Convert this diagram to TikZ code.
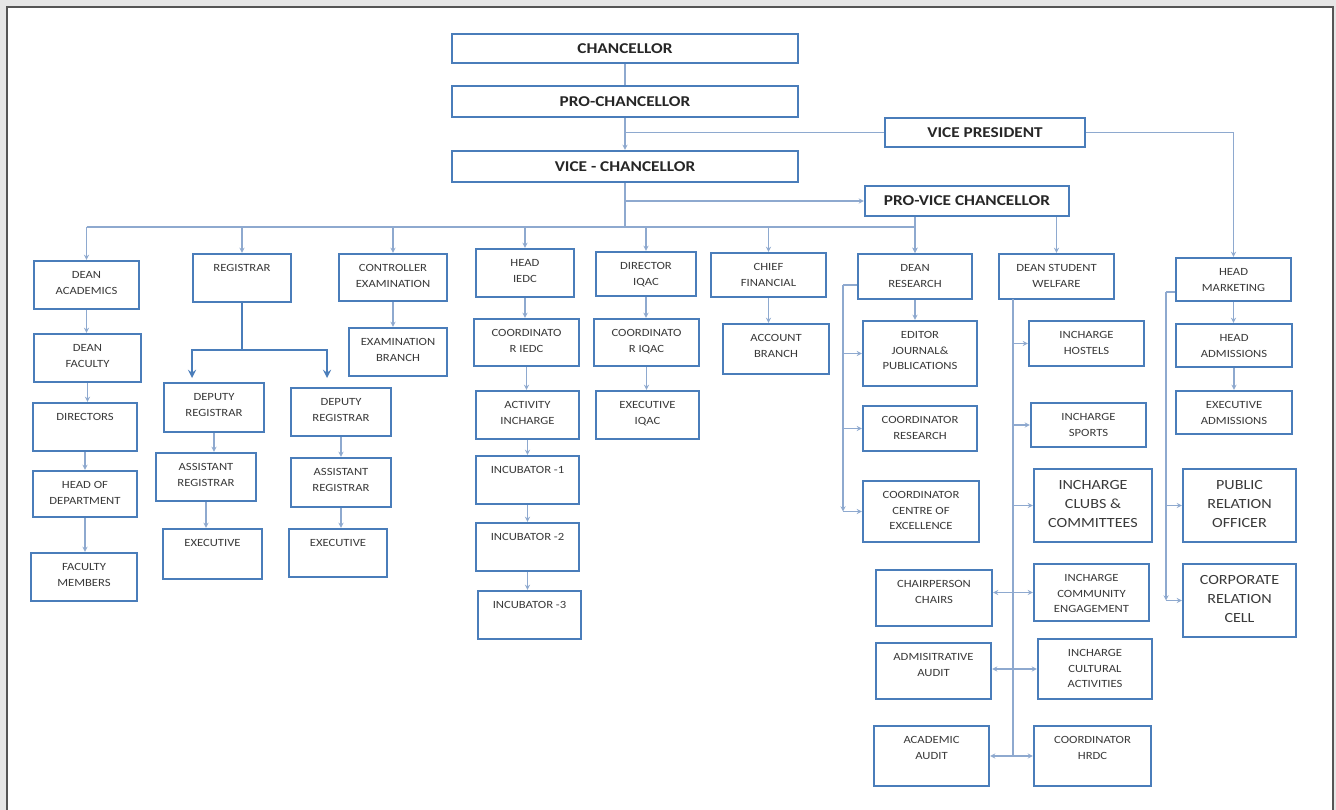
\documentclass[tikz,border=0pt]{standalone}
\usepackage{fontspec}
\setmainfont{Carlito}[FakeStretch=1.15]
\usetikzlibrary{arrows}

\definecolor{boxblue}{HTML}{4A7DBA}
\definecolor{linkblue}{HTML}{8EA9CF}
\definecolor{textgray}{HTML}{3A3A3A}
\definecolor{pagegray}{HTML}{E6E6E6}
\definecolor{framegray}{HTML}{555555}

\begin{document}
\begin{tikzpicture}[x=1pt,y=-1pt,>=stealth]

	\tikzstyle unit box=[draw=boxblue, line width=2.2pt, fill=white, inner sep=0pt];
	\tikzstyle top box=[unit box, font=\fontsize{15}{18}\selectfont\bfseries, text=black!85];
	\tikzstyle unit text=[anchor=north, yshift=-11.5pt, inner sep=0pt, align=center, text=textgray, font=\fontsize{11}{15.5}\selectfont];
	\tikzstyle wide text=[anchor=north, yshift=-12.5pt, inner sep=0pt, align=center, text=textgray, font=\fontsize{14}{19}\selectfont];
	\tikzstyle link lines=[draw=linkblue, line width=1.3pt];
	\tikzstyle split lines=[draw=boxblue, line width=2.6pt];

	% page
	\useasboundingbox (0,0) rectangle (1336,810);
	\fill[pagegray] (0,0) rectangle (1336,810);
	\filldraw[fill=white, draw=framegray, line width=1.5pt] (7,7) rectangle (1333,830);

	% top of the chart
	\node[top box, minimum width=346pt, minimum height=29pt] (chancellor) at (625,48.5) {CHANCELLOR};
	\node[top box, minimum width=346pt, minimum height=31pt] (prochancellor) at (625,101.5) {PRO-CHANCELLOR};
	\node[top box, minimum width=346pt, minimum height=31pt] (vc) at (625,166.5) {VICE - CHANCELLOR};
	\node[top box, minimum width=200pt, minimum height=29pt] (vp) at (985,132.5) {VICE PRESIDENT};
	\node[top box, minimum width=204pt, minimum height=30pt] (pvc) at (967,201) {PRO-VICE CHANCELLOR};

	% units
	\foreach \n/\xl/\yt/\xr/\yb/\txt in {
		deanacad/33/260/140/310/{DEAN\\ACADEMICS},
		deanfac/33/333/142/383/{DEAN\\FACULTY},
		directors/32/402/138/452/{DIRECTORS},
		hod/32/470/138/518/{HEAD OF\\DEPARTMENT},
		facmem/30/552/138/602/{FACULTY\\MEMBERS},
		registrar/192/253/292/303/{REGISTRAR},
		depreg1/163/382/265/433/{DEPUTY\\REGISTRAR},
		depreg2/290/387/392/437/{DEPUTY\\REGISTRAR},
		asstreg1/155/452/257/502/{ASSISTANT\\REGISTRAR},
		asstreg2/290/457/392/508/{ASSISTANT\\REGISTRAR},
		exec1/162/528/263/580/{EXECUTIVE},
		exec2/288/528/388/578/{EXECUTIVE},
		controller/338/253/448/302/{CONTROLLER\\EXAMINATION},
		exambranch/348/327/448/377/{EXAMINATION\\BRANCH},
		headiedc/475/248/575/298/{HEAD\\IEDC},
		coordiedc/473/318/580/367/{COORDINATO\\R IEDC},
		activity/475/390/580/440/{ACTIVITY\\INCHARGE},
		incub1/475/455/580/505/{INCUBATOR -1},
		incub2/475/522/580/572/{INCUBATOR -2},
		incub3/477/590/582/640/{INCUBATOR -3},
		diriqac/595/251/697/297/{DIRECTOR\\IQAC},
		coordiqac/593/318/700/367/{COORDINATO\\R IQAC},
		execiqac/595/390/700/440/{EXECUTIVE\\IQAC},
		chieffin/710/252/827/298/{CHIEF\\FINANCIAL},
		account/722/323/830/375/{ACCOUNT\\BRANCH},
		deanres/857/253/973/300/{DEAN\\RESEARCH},
		editor/862/320/978/387/{EDITOR\\JOURNAL\&\\PUBLICATIONS},
		coordres/862/405/978/452/{COORDINATOR\\RESEARCH},
		coe/862/480/980/543/{COORDINATOR\\CENTRE OF\\EXCELLENCE},
		dsw/998/253/1115/300/{DEAN STUDENT\\WELFARE},
		hostels/1028/320/1145/367/{INCHARGE\\HOSTELS},
		sports/1030/402/1147/448/{INCHARGE\\SPORTS},
		community/1033/563/1150/622/{INCHARGE\\COMMUNITY\\ENGAGEMENT},
		cultural/1037/638/1153/700/{INCHARGE\\CULTURAL\\ACTIVITIES},
		hrdc/1033/725/1152/787/{COORDINATOR\\HRDC},
		chairs/875/569/993/627/{CHAIRPERSON\\CHAIRS},
		admaudit/875/642/992/700/{ADMISITRATIVE\\AUDIT},
		acadaudit/873/725/990/787/{ACADEMIC\\AUDIT},
		headmkt/1175/257/1292/302/{HEAD\\MARKETING},
		headadm/1175/323/1293/368/{HEAD\\ADMISSIONS},
		execadm/1175/390/1293/435/{EXECUTIVE\\ADMISSIONS}}
		\node[unit box, minimum width=\xr pt-\xl pt-2pt, minimum height=\yb pt-\yt pt-2pt,
			label={[unit text]north:{\txt}}] (\n) at ({(\xl+\xr)/2},{(\yt+\yb)/2}) {};

	\foreach \n/\xl/\yt/\xr/\yb/\txt in {
		clubs/1033/468/1153/543/{INCHARGE\\CLUBS \&\\COMMITTEES},
		pro/1182/468/1297/543/{PUBLIC\\RELATION\\OFFICER},
		crc/1182/563/1297/638/{CORPORATE\\RELATION\\CELL}}
		\node[unit box, minimum width=\xr pt-\xl pt-2pt, minimum height=\yb pt-\yt pt-2pt,
			label={[wide text]north:{\txt}}] (\n) at ({(\xl+\xr)/2},{(\yt+\yb)/2}) {};

	% spine
	\coordinate (bus) at (625,227);
	\draw[link lines] (chancellor) -- (prochancellor);
	\draw[link lines,->] (prochancellor) -- (vc);
	\draw[link lines] (vp.west) -- (vp.west -| prochancellor.south);
	\draw[link lines,->] (vp.east) -| (headmkt.north);
	\draw[link lines] (vc.south) -- (bus);
	\draw[link lines,->] (vc.south |- pvc.west) -- (pvc.west);
	\draw[link lines,->] (pvc.south -| deanres.north) -- (deanres.north);
	\draw[link lines,->] (pvc.south -| dsw.north) -- (dsw.north);

	% bus to the units
	\draw[link lines] (deanacad.north |- bus) -- (deanres.north |- bus);
	\foreach \u in {deanacad,registrar,controller,headiedc,diriqac,chieffin,deanres}
		\draw[link lines,->] (\u.north |- bus) -- (\u.north);

	% columns
	\foreach \a/\b in {deanacad/deanfac,deanfac/directors,directors/hod,hod/facmem,
		depreg1/asstreg1,asstreg1/exec1,depreg2/asstreg2,asstreg2/exec2,controller/exambranch,
		headiedc/coordiedc,coordiedc/activity,activity/incub1,incub1/incub2,incub2/incub3,
		diriqac/coordiqac,coordiqac/execiqac,chieffin/account,deanres/editor,
		headmkt/headadm,headadm/execadm}
		\draw[link lines,->] (\a.south) -- (\a.south |- \b.north);

	% registrar split
	\coordinate (reg split) at (242,350);
	\coordinate (reg left) at (192,378);
	\coordinate (reg right) at (327,378);
	\draw[split lines] (registrar.south) -- (reg split);
	\draw[split lines,->] (reg split) -| (reg left);
	\draw[split lines,->] (reg split) -| (reg right);

	% research
	\coordinate (res top) at (843,285);
	\draw[link lines] (deanres.west |- res top) -- (res top);
	\draw[link lines,->] (res top) -- (res top |- coe.west);
	\foreach \u in {editor,coordres,coe}
		\draw[link lines,->] (res top |- \u.west) -- (\u.west);

	% student welfare
	\coordinate (welfare top) at (1013,299);
	\draw[link lines] (welfare top) -- (welfare top |- hrdc.west);
	\foreach \u in {hostels,sports,clubs}
		\draw[link lines,->] (welfare top |- \u.west) -- (\u.west);
	\draw[link lines,<->] (chairs.east |- community.west) -- (community.west);
	\draw[link lines,<->] (admaudit.east |- cultural.west) -- (cultural.west);
	\draw[link lines,<->] (acadaudit.east |- hrdc.west) -- (hrdc.west);

	% marketing
	\coordinate (mkt top) at (1166,292);
	\draw[link lines] (headmkt.west |- mkt top) -- (mkt top);
	\draw[link lines,->] (mkt top) -- (mkt top |- crc.west);
	\foreach \u in {pro,crc}
		\draw[link lines,->] (mkt top |- \u.west) -- (\u.west);

\end{tikzpicture}
\end{document}
